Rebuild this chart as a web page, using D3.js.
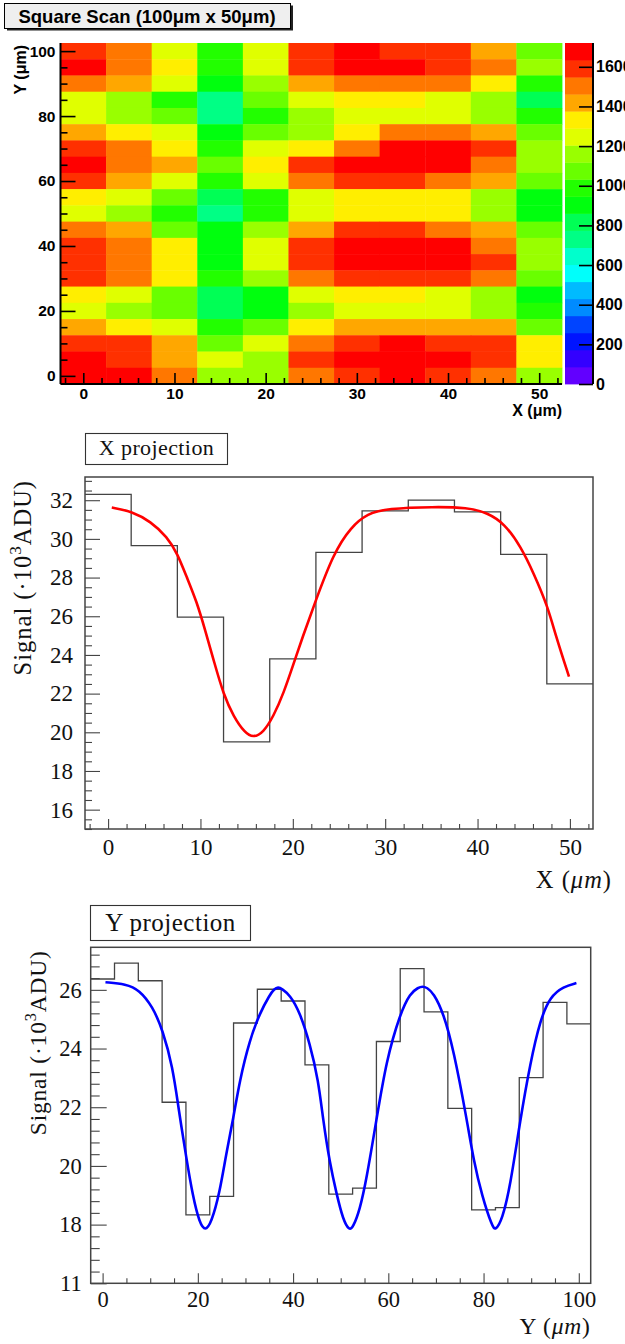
<!DOCTYPE html>
<html><head><meta charset="utf-8">
<script src="https://cdn.jsdelivr.net/npm/d3@7"></script>
<style>
  body { margin: 0; background: #fff; }
  svg { display: block; }
</style>
</head><body>
<script>
// ---------- square scan map (signal per position, ADU) ----------
const scanX = [0, 5, 10, 15, 20, 25, 30, 35, 40, 45, 50];
const scanY = [100, 95, 90, 85, 80, 75, 70, 65, 60, 55, 50, 45, 40, 35, 30, 25, 20, 15, 10, 5, 0];
const scanSignal = [
  [1590,1500,1250, 990,1250,1590,1680,1590,1590,1420,1080],
  [1680,1500,1330, 990,1250,1590,1680,1680,1590,1500,1160],
  [1500,1420,1250, 900,1160,1420,1500,1500,1500,1330, 990],
  [1250,1160, 990, 730,1080,1250,1330,1330,1250,1160, 820],
  [1250,1160,1080, 730, 990,1160,1250,1250,1250,1160, 990],
  [1420,1330,1250, 900,1080,1160,1330,1500,1500,1420,1080],
  [1590,1500,1330, 990,1250,1330,1500,1680,1680,1590,1160],
  [1680,1500,1420,1080,1330,1590,1680,1680,1680,1500,1160],
  [1590,1420,1250, 990,1250,1500,1590,1590,1500,1420,1080],
  [1330,1250,1080, 820, 990,1250,1330,1330,1330,1160, 900],
  [1250,1160, 990, 730, 990,1250,1330,1330,1330,1160, 900],
  [1500,1420,1080, 900,1160,1420,1590,1590,1500,1420,1080],
  [1590,1500,1330, 900,1250,1590,1680,1680,1680,1500,1160],
  [1590,1500,1330, 900,1250,1590,1680,1680,1680,1590,1160],
  [1590,1500,1330, 990,1160,1500,1590,1590,1590,1500,1080],
  [1330,1250,1080, 820, 900,1250,1330,1330,1250,1160, 900],
  [1250,1160,1080, 820, 900,1160,1250,1250,1250,1160, 990],
  [1420,1330,1250, 990,1080,1330,1420,1420,1420,1420,1080],
  [1590,1590,1420,1080,1250,1500,1590,1680,1590,1590,1330],
  [1680,1590,1420,1250,1160,1590,1680,1680,1680,1590,1330],
  [1680,1680,1500,1160,1160,1500,1590,1680,1590,1500,1160]
];
const zMax = 1720;
const mapXTicks = [0, 10, 20, 30, 40, 50];
const mapYTicks = [0, 20, 40, 60, 80, 100];
const colorTicks = [0, 200, 400, 600, 800, 1000, 1200, 1400, 1600];

// ---------- X projection (10^3 ADU) ----------
const projXCenters = [0, 5, 10, 15, 20, 25, 30, 35, 40, 45, 50];
const projXSignal = [32.3, 29.65, 25.95, 19.5, 23.8, 29.3, 31.45, 32.0, 31.4, 29.2, 22.5];
const fitXPos = [0.4, 2.6, 4.6, 6.4, 7.5, 8.5, 9.6, 10.5, 11.5, 12.5, 13.6, 14.8, 15.7, 16.8, 17.9, 19.0, 20.1, 21.0, 22.5, 24.4, 26.3, 28.1, 30.2, 35.3, 38.9, 41.1, 42.9, 44.7, 46.1, 47.6, 48.5, 49.9];
const fitXVal = [31.62, 31.42, 30.9, 30.1, 29.25, 28.04, 26.75, 25.3, 23.6, 21.95, 20.8, 19.98, 19.72, 19.98, 20.82, 22.02, 23.57, 24.85, 26.84, 29.25, 30.62, 31.31, 31.57, 31.66, 31.62, 31.35, 30.8, 29.59, 28.2, 26.5, 24.94, 22.88];
const projXTicksX = [0, 10, 20, 30, 40, 50];
const projXTicksY = [16, 18, 20, 22, 24, 26, 28, 30, 32];

// ---------- Y projection (10^3 ADU) ----------
const projYCenters = [0, 5, 10, 15, 20, 25, 30, 35, 40, 45, 50, 55, 60, 65, 70, 75, 80, 85, 90, 95, 100];
const projYSignal = [26.37, 26.91, 26.31, 22.17, 18.33, 18.96, 24.87, 26.02, 25.62, 23.44, 19.04, 19.24, 24.24, 26.72, 25.25, 21.96, 18.5, 18.58, 23.01, 25.57, 24.84];
const fitYPos = [0.6, 4.9, 7.7, 10.5, 12.6, 14.7, 16.0, 17.55, 18.95, 20.36, 21.55, 22.8, 24.57, 25.97, 27.4, 28.8, 30.9, 33.0, 35.1, 36.0, 36.85, 37.7, 39.3, 41.4, 43.5, 45.3, 46.3, 47.7, 49.1, 50.5, 51.8, 52.6, 54.0, 55.4, 57.5, 59.6, 62.5, 64.6, 66.3, 67.2, 68.1, 69.5, 71.6, 73.7, 76.5, 77.9, 79.7, 81.8, 82.5, 83.9, 85.6, 87.7, 89.8, 91.9, 94.0, 96.8, 99.5];
const fitYVal = [26.26, 26.2, 26.0, 25.43, 24.64, 23.39, 21.9, 20.3, 18.96, 18.05, 17.78, 18.05, 19.07, 20.44, 21.57, 22.93, 24.3, 25.2, 25.83, 26.02, 26.1, 26.03, 25.83, 25.25, 24.18, 22.93, 21.57, 20.1, 19.07, 18.16, 17.8, 17.91, 18.5, 19.53, 21.57, 23.61, 25.2, 25.89, 26.08, 26.12, 26.08, 25.89, 25.2, 23.96, 21.57, 20.2, 18.96, 17.94, 17.8, 18.16, 19.3, 21.57, 23.5, 24.98, 25.77, 26.11, 26.23];
const projYTicksX = [0, 20, 40, 60, 80, 100];
const projYTicksY = [16, 18, 20, 22, 24, 26];
const projYTickLabels = ["11", "18", "20", "22", "24", "26"];

// colour bands of the map (violet -> red)
const palette = ["#6200ff","#3300ff","#0014ff","#0044ff","#008bff","#00bbff","#00fffb","#00ffcc","#00ff85","#00ff55",
                 "#00ff0e","#22ff00","#69ff00","#99ff00","#e0ff00","#ffee00","#ffa700","#ff7700","#ff3000","#ff0000"];

const W = 625, H = 1344;
const svg = d3.select("body").append("svg").attr("width", W).attr("height", H)
  .style("background", "#fff");

const sans = "'Liberation Sans', Arial, Helvetica, sans-serif";
const serif = "'Liberation Serif', 'Times New Roman', serif";

// ================= scan map =================
(function drawMap() {
  const L = 60.5, R = 562, T = 43, B = 384;
  const binW = 5;
  const x = d3.scaleLinear().domain([-2.5, 52.5]).range([L, R]);
  const y = d3.scaleLinear().domain([-2.5, 102.5]).range([B, T]);
  const color = d3.scaleQuantize().domain([0, zMax]).range(palette);

  // title box with shadow
  const tb = svg.append("g");
  tb.append("rect").attr("x", 7).attr("y", 5.5).attr("width", 286).attr("height", 25).attr("fill", "#222");
  tb.append("rect").attr("x", 4.5).attr("y", 3.5).attr("width", 286).attr("height", 25)
    .attr("fill", "#efefef").attr("stroke", "#000").attr("stroke-width", 1);
  tb.append("text").attr("x", 147).attr("y", 22.5).attr("text-anchor", "middle")
    .attr("font-family", sans).attr("font-weight", "bold").attr("font-size", 18.5)
    .text("Square Scan (100\u03bcm x 50\u03bcm)");

  const cells = [];
  scanY.forEach((yy, i) => scanX.forEach((xx, j) => cells.push({ x: xx, y: yy, v: scanSignal[i][j] })));
  svg.append("g").selectAll("rect").data(cells).join("rect")
    .attr("x", d => x(d.x - binW / 2))
    .attr("y", d => y(d.y + binW / 2))
    .attr("width", d => x(d.x + binW / 2) - x(d.x - binW / 2) + 0.4)
    .attr("height", d => y(d.y - binW / 2) - y(d.y + binW / 2) + 0.4)
    .attr("fill", d => color(d.v));

  const font = (size) => g => g.attr("font-family", sans).attr("font-weight", "bold").attr("font-size", size).attr("fill", "#000");
  const clean = g => { g.select(".domain").remove(); g.selectAll(".tick line").attr("stroke", "#000").attr("stroke-width", 1.6); };

  // y axis (ticks inside)
  svg.append("g").attr("transform", `translate(${L},0)`)
    .call(d3.axisLeft(y).tickValues(d3.range(0, 101, 5).filter(v => !mapYTicks.includes(v))).tickSize(-7).tickFormat(""))
    .call(clean);
  svg.append("g").attr("transform", `translate(${L},0)`)
    .call(d3.axisLeft(y).tickValues(mapYTicks).tickSize(-15).tickPadding(5))
    .call(clean).call(g => g.selectAll("text").call(font(15.5)));
  // x axis (ticks inside)
  svg.append("g").attr("transform", `translate(0,${B})`)
    .call(d3.axisBottom(x).tickValues(d3.range(-2, 53, 2).filter(v => !mapXTicks.includes(v))).tickSize(-6).tickFormat(""))
    .call(clean);
  svg.append("g").attr("transform", `translate(0,${B})`)
    .call(d3.axisBottom(x).tickValues(mapXTicks).tickSize(-11).tickPadding(4))
    .call(clean).call(g => g.selectAll("text").call(font(15.5)));
  svg.append("line").attr("x1", L).attr("x2", L).attr("y1", T).attr("y2", B).attr("stroke", "#000").attr("stroke-width", 2);
  svg.append("line").attr("x1", L).attr("x2", R).attr("y1", B).attr("y2", B).attr("stroke", "#000").attr("stroke-width", 2);

  // axis titles
  svg.append("text").attr("transform", `translate(26,${T + 2}) rotate(-90)`).attr("text-anchor", "end")
    .call(font(16)).text("Y (\u03bcm)");
  svg.append("text").attr("x", R).attr("y", 416).attr("text-anchor", "end").call(font(16)).text("X (\u03bcm)");

  // colour scale
  const cL = 565, cR = 593;
  const z = d3.scaleLinear().domain([0, zMax]).range([B, T]);
  const step = zMax / palette.length;
  svg.append("g").selectAll("rect").data(palette).join("rect")
    .attr("x", cL).attr("width", cR - cL)
    .attr("y", (c, k) => z((k + 1) * step)).attr("height", (c, k) => z(k * step) - z((k + 1) * step) + 0.4)
    .attr("fill", c => c);
  svg.append("g").attr("transform", `translate(${cR},0)`)
    .call(d3.axisRight(z).tickValues(colorTicks).tickSize(-14).tickPadding(3).tickFormat(d3.format("d")))
    .call(clean).call(g => g.selectAll("text").call(font(16)));
  svg.append("line").attr("x1", cR).attr("x2", cR).attr("y1", T).attr("y2", B).attr("stroke", "#000").attr("stroke-width", 2);
})();

// ================= projection panels =================
function drawProjection(o) {
  const { L, R, T, B } = o;
  const x = d3.scaleLinear().domain(o.xDomain).range([L, R]);
  const y = d3.scaleLinear().domain(o.yDomain).range([B, T]);
  const g = svg.append("g");
  const grey = "#444";
  const clean = s => { s.select(".domain").remove(); s.selectAll(".tick line").attr("stroke", grey).attr("stroke-width", 1.1); };
  const font = s => s.attr("font-family", serif).attr("font-size", o.tickFont).attr("fill", "#111");

  // title box
  g.append("rect").attr("x", o.box[0]).attr("y", o.box[1]).attr("width", o.box[2]).attr("height", o.box[3])
    .attr("fill", "#fff").attr("stroke", "#333").attr("stroke-width", 1.1);
  g.append("text").attr("x", o.box[0] + o.box[2] / 2).attr("y", o.titleBase).attr("text-anchor", "middle")
    .attr("font-family", serif).attr("font-size", o.titleFont).attr("letter-spacing", o.titleSpacing)
    .attr("fill", "#111").text(o.title);

  // ticks
  g.append("g").attr("transform", `translate(${L},0)`)
    .call(d3.axisLeft(y).tickValues(o.yMinor).tickSize(-o.minorLenY).tickFormat("")).call(clean);
  g.append("g").attr("transform", `translate(${L},0)`)
    .call(d3.axisLeft(y).tickValues(o.yTicks).tickSize(-o.majorLenY).tickPadding(o.yPad)
      .tickFormat((d, i) => o.yLabels ? o.yLabels[i] : d))
    .call(clean).call(s => s.selectAll("text").call(font));
  g.append("g").attr("transform", `translate(0,${B})`)
    .call(d3.axisBottom(x).tickValues(o.xMinor).tickSize(-5).tickFormat("")).call(clean);
  g.append("g").attr("transform", `translate(0,${B})`)
    .call(d3.axisBottom(x).tickValues(o.xTicks).tickSize(-10).tickPadding(o.xPad))
    .call(clean).call(s => s.selectAll("text").call(font));

  // histogram outline
  const half = o.binW / 2;
  const steps = o.centers.map((c, i) => [c - half, o.values[i]]);
  steps.push([o.centers[o.centers.length - 1] + half, o.values[o.values.length - 1]]);
  g.append("path").datum(steps)
    .attr("d", d3.line().x(d => x(d[0])).y(d => y(d[1])).curve(d3.curveStepAfter))
    .attr("fill", "none").attr("stroke", grey).attr("stroke-width", 1.3);

  // fitted curve
  g.append("path").datum(o.fitPos.map((p, i) => [p, o.fitVal[i]]))
    .attr("d", d3.line().x(d => x(d[0])).y(d => y(d[1])).curve(d3.curveBasis))
    .attr("fill", "none").attr("stroke", o.fitColor).attr("stroke-width", 2.6).attr("stroke-linejoin", "round");

  // frame
  g.append("rect").attr("x", L).attr("y", T).attr("width", R - L).attr("height", B - T)
    .attr("fill", "none").attr("stroke", grey).attr("stroke-width", 1.5);

  // axis titles
  const yt = g.append("text").attr("transform", `translate(${o.yTitleX},${T + 3}) rotate(-90)`)
    .attr("text-anchor", "end").attr("font-family", serif).attr("font-size", o.axisFont)
    .attr("letter-spacing", o.axisSpacing).attr("fill", "#111");
  yt.append("tspan").text("Signal (\u00b710");
  yt.append("tspan").attr("font-size", o.axisFont * 0.7).attr("dy", -o.axisFont * 0.42).text("3");
  yt.append("tspan").attr("dy", o.axisFont * 0.42).text("ADU)");

  const xt = g.append("text").attr("x", R + o.xTitleShift).attr("y", o.xTitleBase).attr("text-anchor", "end")
    .attr("font-family", serif).attr("font-size", o.axisFont).attr("letter-spacing", o.axisSpacing).attr("fill", "#111");
  xt.append("tspan").text(o.xName + " (");
  xt.append("tspan").attr("font-style", "italic").text("\u03bcm");
  xt.append("tspan").text(")");
}

drawProjection({
  L: 85, R: 593, T: 477, B: 829,
  xDomain: [-2.5, 52.5], yDomain: [15, 33.2],
  centers: projXCenters, values: projXSignal, binW: 5,
  fitPos: fitXPos, fitVal: fitXVal, fitColor: "#ff0000",
  xTicks: projXTicksX, xMinor: d3.range(-2, 53, 2).filter(v => !projXTicksX.includes(v)),
  yTicks: projXTicksY, yMinor: d3.range(15, 33.2, 0.5).filter(v => !projXTicksY.includes(v)),
  majorLenY: 15, minorLenY: 7, yPad: 12, xPad: 10,
  tickFont: 23, axisFont: 24.5, axisSpacing: 1, titleFont: 22, titleSpacing: 0.4,
  box: [85.5, 433.5, 142, 31], titleBase: 455, title: "X projection",
  yTitleX: 31, xName: "X", xTitleShift: 19, xTitleBase: 888
});

drawProjection({
  L: 90.7, R: 590.7, T: 947.3, B: 1283.3,
  xDomain: [-2.5, 102.5], yDomain: [16, 27.45],
  centers: projYCenters, values: projYSignal, binW: 5,
  fitPos: fitYPos, fitVal: fitYVal, fitColor: "#0000ff",
  xTicks: projYTicksX, xMinor: d3.range(5, 101, 5).filter(v => !projYTicksX.includes(v)),
  yTicks: projYTicksY, yLabels: projYTickLabels, yMinor: d3.range(16, 27.45, 0.4).filter(v => !projYTicksY.some(t => Math.abs(t - v) < 1e-6)),
  majorLenY: 16, minorLenY: 9, yPad: 9, xPad: 8,
  tickFont: 22.5, axisFont: 23.5, axisSpacing: 0.8, titleFont: 25, titleSpacing: 0.5,
  box: [90.5, 905.5, 160, 35], titleBase: 931, title: "Y projection",
  yTitleX: 46, xName: "Y", xTitleShift: 0, xTitleBase: 1334
});
</script>
</body></html>
